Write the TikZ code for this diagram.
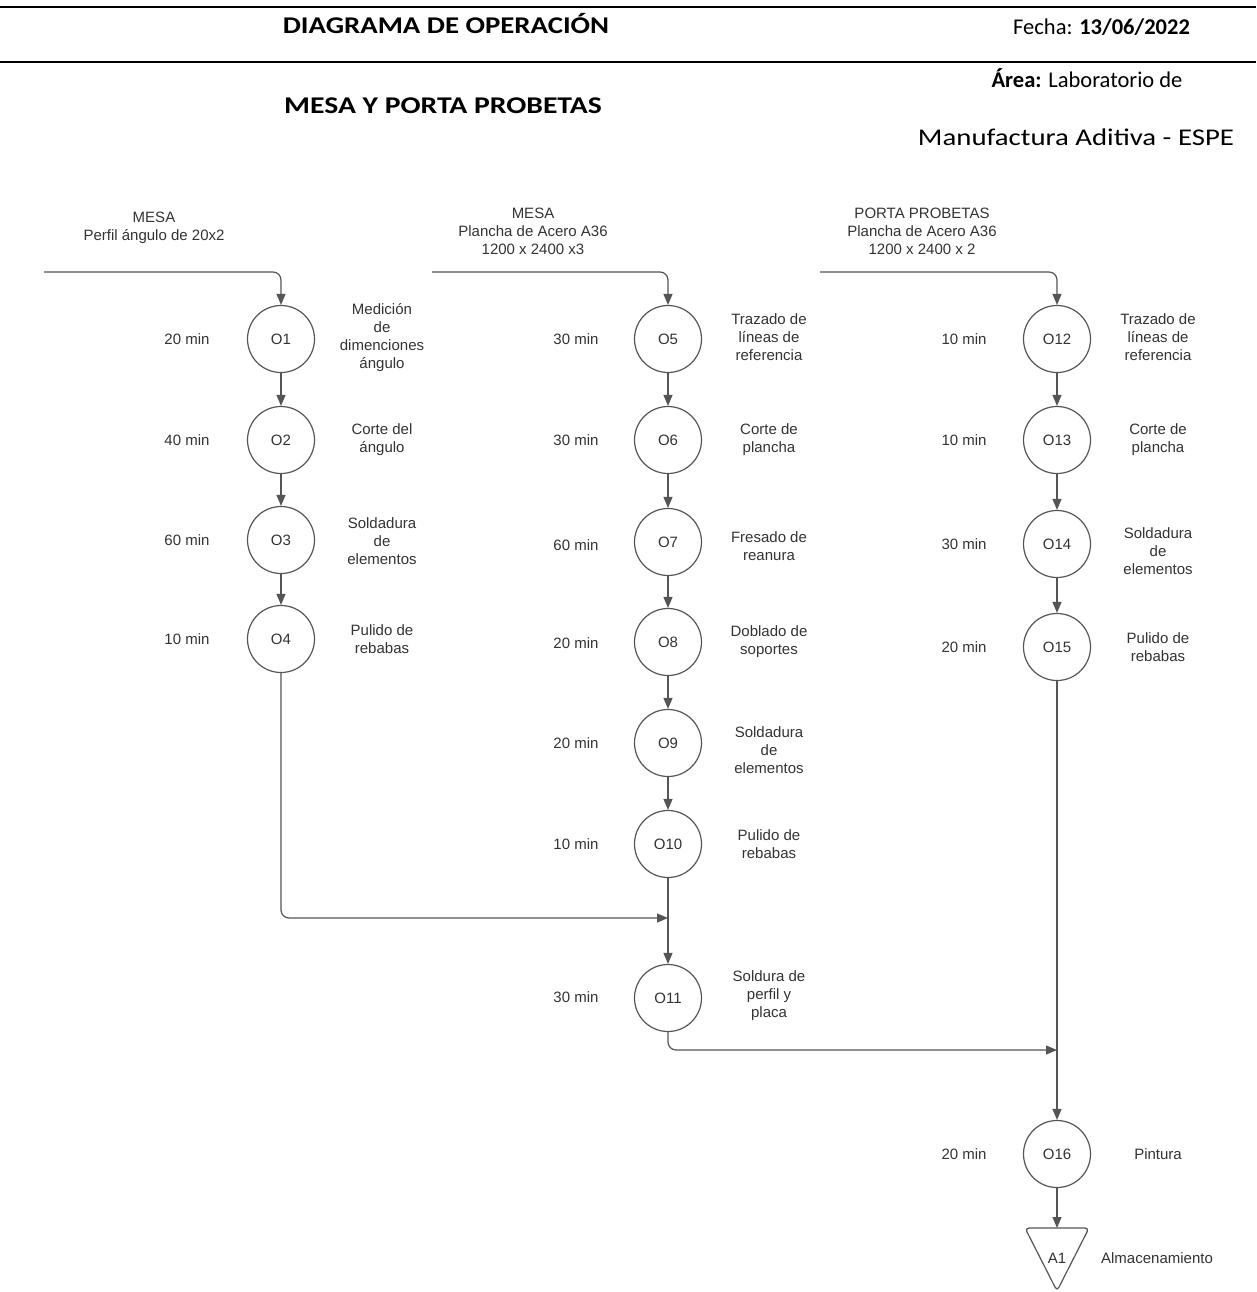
\documentclass[tikz,border=0pt]{standalone}
\usepackage{fontspec}
\setmainfont{Liberation Sans}
\newfontfamily\hdrfont[FakeStretch=1.2]{Carlito}
\newfontfamily\hdrplain{Carlito}
\usetikzlibrary{arrows.meta}

\definecolor{ink}{HTML}{333333}
\definecolor{edge}{HTML}{555555}

\begin{document}
\begin{tikzpicture}[x=1pt,y=-1pt,
  op/.style={circle, draw=edge, line width=1.2pt, minimum size=67pt, inner sep=0pt,
             text=ink, font=\fontsize{15}{18}\selectfont},
  lbl/.style={text=ink, align=center, font=\fontsize{15}{18}\selectfont, inner sep=0pt},
  flow/.style={draw=edge, line width=1.2pt, rounded corners=8pt,
               -{Triangle[length=11pt,width=9pt]}},
  hdr/.style={font=\hdrfont\fontsize{24}{28}\selectfont, inner sep=0pt},
  hdrsm/.style={font=\hdrplain\fontsize{22.5}{27}\selectfont, inner sep=0pt},
  rule/.style={line width=2.5pt}
]
\useasboundingbox[fill=white] (0,0) rectangle (1256,1292);

% ---- header ----
\draw[rule] (0,7) -- (1256,7);
\draw[rule] (0,62) -- (1256,62);
\node[hdr, anchor=base] (title) at (446,33.5) {\textbf{DIAGRAMA DE OPERACIÓN}};
\node[hdrsm, anchor=base west] (fecha) at (1013,35) {Fecha: \textbf{13/06/2022}};
\node[hdrsm, anchor=base] (area) at (1087,88) {\textbf{Área:} Laboratorio de};
\node[hdr, anchor=base, xscale=1.03] (sub) at (443,114) {\textbf{MESA Y PORTA PROBETAS}};
\node[hdr, anchor=base] (area2) at (1076,146) {Manufactura Aditiva - ESPE};

% ---- inputs ----
\node[lbl] (in1) at (154,228) {MESA\\Perfil ángulo de 20x2};
\node[lbl] (in2) at (533,231) {MESA\\Plancha de Acero A36\\1200 x 2400 x3};
\node[lbl] (in3) at (922,231) {PORTA PROBETAS\\Plancha de Acero A36\\1200 x 2400 x 2};
\coordinate (s1) at (44,272);
\coordinate (s2) at (432,272);
\coordinate (s3) at (820,272);

% ---- column 1: perfil ----
\node[op] (O1) at (281,339) {O1};
\node[op] (O2) at (281,440) {O2};
\node[op] (O3) at (281,540) {O3};
\node[op] (O4) at (281,639) {O4};
\node[lbl] (t1) at (187,339) {20 min};
\node[lbl] (t2) at (187,440) {40 min};
\node[lbl] (t3) at (187,540) {60 min};
\node[lbl] (t4) at (187,639) {10 min};
\node[lbl] (d1) at (382,338) {Medición\\de\\dimenciones\\ángulo};
\node[lbl] (d2) at (382,440) {Corte del\\ángulo};
\node[lbl] (d3) at (382,541) {Soldadura\\de\\elementos};
\node[lbl] (d4) at (382,639) {Pulido de\\rebabas};

% ---- column 2: plancha mesa ----
\node[op] (O5) at (668,339) {O5};
\node[op] (O6) at (668,440) {O6};
\node[op] (O7) at (668,542) {O7};
\node[op] (O8) at (668,642) {O8};
\node[op] (O9) at (668,743) {O9};
\node[op] (O10) at (668,844) {O10};
\node[op] (O11) at (668,998) {O11};
\node[lbl] (t5) at (576,339) {30 min};
\node[lbl] (t6) at (576,440) {30 min};
\node[lbl] (t7) at (576,545) {60 min};
\node[lbl] (t8) at (576,643) {20 min};
\node[lbl] (t9) at (576,743) {20 min};
\node[lbl] (t10) at (576,844) {10 min};
\node[lbl] (t11) at (576,997) {30 min};
\node[lbl] (d5) at (769,337) {Trazado de\\líneas de\\referencia};
\node[lbl] (d6) at (769,440) {Corte de\\plancha};
\node[lbl] (d7) at (769,546) {Fresado de\\reanura};
\node[lbl] (d8) at (769,642) {Doblado de\\soportes};
\node[lbl] (d9) at (769,750) {Soldadura\\de\\elementos};
\node[lbl] (d10) at (769,844) {Pulido de\\rebabas};
\node[lbl] (d11) at (769,996) {Soldura de\\perfil y\\placa};

% ---- column 3: porta probetas ----
\node[op] (O12) at (1057,339) {O12};
\node[op] (O13) at (1057,440) {O13};
\node[op] (O14) at (1057,544) {O14};
\node[op] (O15) at (1057,647) {O15};
\node[op] (O16) at (1057,1154) {O16};
\node[lbl] (t12) at (964,339) {10 min};
\node[lbl] (t13) at (964,440) {10 min};
\node[lbl] (t14) at (964,544) {30 min};
\node[lbl] (t15) at (964,647) {20 min};
\node[lbl] (t16) at (964,1154) {20 min};
\node[lbl] (d12) at (1158,337) {Trazado de\\líneas de\\referencia};
\node[lbl] (d13) at (1158,440) {Corte de\\plancha};
\node[lbl] (d14) at (1158,551) {Soldadura\\de\\elementos};
\node[lbl] (d15) at (1158,647) {Pulido de\\rebabas};
\node[lbl] (d16) at (1158,1154) {Pintura};

% ---- storage ----
\draw[draw=edge, line width=1.2pt, rounded corners=4pt, fill=white]
  (1025,1228) -- (1089,1228) -- (1057,1291) -- cycle;
\coordinate (A1top) at (1057,1228);
\node[lbl] (A1) at (1057,1258) {A1};
\node[lbl] (dA1) at (1157,1258) {Almacenamiento};

% ---- merge points ----
\coordinate (m1) at (668,918);
\coordinate (m2) at (1057,1050);

% ---- connectors ----
\draw[flow] (s1) -| (O1);
\draw[flow] (s2) -| (O5);
\draw[flow] (s3) -| (O12);
\draw[flow] (O1) -- (O2);
\draw[flow] (O2) -- (O3);
\draw[flow] (O3) -- (O4);
\draw[flow] (O5) -- (O6);
\draw[flow] (O6) -- (O7);
\draw[flow] (O7) -- (O8);
\draw[flow] (O8) -- (O9);
\draw[flow] (O9) -- (O10);
\draw[flow] (O10) -- (O11);
\draw[flow] (O4) |- (m1);
\draw[flow] (O12) -- (O13);
\draw[flow] (O13) -- (O14);
\draw[flow] (O14) -- (O15);
\draw[flow] (O15) -- (O16);
\draw[flow] (O11) |- (m2);
\draw[flow] (O16) -- (A1top);
\end{tikzpicture}
\end{document}
